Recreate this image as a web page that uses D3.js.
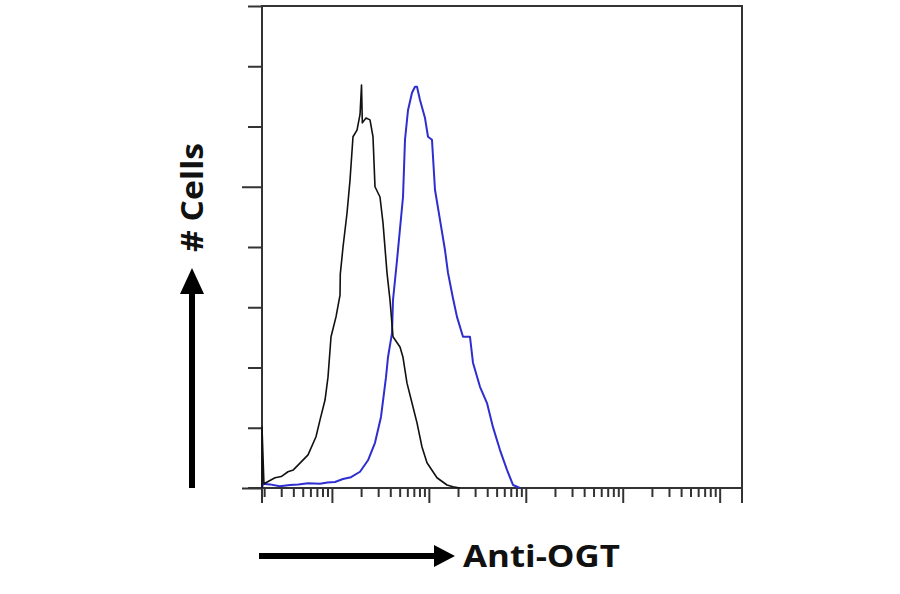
<!DOCTYPE html>
<html><head><meta charset="utf-8">
<script src="https://cdn.jsdelivr.net/npm/d3@7"></script>
<style>body{margin:0;background:#fff}</style>
</head><body><svg id="c" width="900" height="594"></svg>
<script>
// Isotype control (black) : [fluorescence intensity, # cells]
const controlSeries = [[1.90,0],[1.90,10.1],[1.99,0.7],[2.59,1.7],[3.0,1.9],[3.52,2.7],[4.0,3.0],[4.47,3.8],[5.67,5.5],[6.85,8.5],[7.54,11.3],[8.49,14.6],[9.11,18.4],[9.79,25.1],[11.02,28.4],[12.12,32.0],[12.2,35.5],[13.02,40.0],[14.31,45.6],[15.37,51.1],[16.50,58.3],[18.15,59.4],[19.5,62.0],[20.2,66.9],[20.6,60.6],[22.47,61.4],[24.71,61.1],[26.53,58.3],[27.82,50.0],[31.33,48.3],[33.65,44.0],[37.01,35.7],[39.73,31.2],[42.67,25.1],[50.39,23.4],[54.12,21.7],[59.51,17.4],[67.02,14.1],[75.46,10.8],[84.99,6.8],[95.68,4.2],[121.3,1.7],[153.9,0.5],[177.4,0.2],[209.5,0]];
// Anti-OGT (blue)
const ogtSeries = [[1.90,0],[1.95,0.7],[2.30,0.6],[2.9,0.3],[3.69,0.5],[4.5,0.6],[5.67,0.8],[7.54,0.7],[9.0,0.9],[10.76,1.0],[13.0,1.5],[15.74,1.8],[19.49,2.7],[23.57,4.6],[27.82,7.5],[32.08,11.8],[36.14,18.4],[37.89,21.7],[41.67,25.7],[42.67,31.2],[46.94,37.8],[54.12,48.3],[56.75,57.8],[60.93,62.7],[67.02,65.6],[71.96,66.6],[75.46,66.6],[81.04,64.4],[91.26,61.4],[98.0,58.3],[107.7,57.8],[115.7,49.5],[130.3,44.5],[146.7,39.5],[157.6,35.7],[177.4,31.5],[195.1,28.4],[225.0,25.1],[265.7,25.1],[285.3,20.8],[336.9,16.8],[397.9,14.1],[458.8,10.1],[541.9,6.3],[640.0,3.0],[738.0,0.5],[871.4,0]];
const yTickValues = [0,10,20,30,40,50,60,70,80];
const yLongTicks = [0,50];
const xMajorTicks = [10,100,1000,10000,100000];
const xMinorMultipliers = [2,3,4,5,6,7,8,9];
const xDomain = [1.9,170000];
const yDomain = [0,80];
const xTitle = "Anti-OGT";
const yTitle = "# Cells";

const svg = d3.select("#c");
const L=262,R=742,T=6,B=488;
const x = d3.scaleLog().domain(xDomain).range([L,R]);
const y = d3.scaleLinear().domain(yDomain).range([B,T]);
const axisColor="#333";

// minor ticks
const minor=[];
[1,10,100,1000,10000,100000].forEach(d=>xMinorMultipliers.forEach(m=>{const v=d*m; if(v>=xDomain[0]&&v<=xDomain[1]) minor.push(v);}));

const gxMinor = svg.append("g").attr("transform",`translate(0,${B})`)
  .call(d3.axisBottom(x).tickValues(minor).tickSize(9).tickFormat(""));
const gxMajor = svg.append("g").attr("transform",`translate(0,${B})`)
  .call(d3.axisBottom(x).tickValues(xMajorTicks).tickSize(15).tickFormat(""));
[gxMinor,gxMajor].forEach(g=>{g.select(".domain").remove();g.selectAll("line").attr("stroke",axisColor).attr("stroke-width",2);});

const gy = svg.append("g").attr("transform",`translate(${L},0)`)
  .call(d3.axisLeft(y).tickValues(yTickValues).tickSize(14).tickFormat(""));
gy.select(".domain").remove();
gy.selectAll(".tick line").attr("stroke",axisColor).attr("stroke-width",2)
  .attr("x2",d=>yLongTicks.includes(d)?-20:-14);

// frame
const frame = svg.append("g").attr("stroke",axisColor).attr("stroke-width",2).attr("fill","none");
frame.append("line").attr("x1",L).attr("x2",L).attr("y1",T-1).attr("y2",503);
frame.append("line").attr("x1",R).attr("x2",R).attr("y1",T-1).attr("y2",503);
frame.append("line").attr("x1",L).attr("x2",R).attr("y1",T).attr("y2",T);
frame.append("line").attr("x1",L-14).attr("x2",R).attr("y1",B).attr("y2",B);

const line = d3.line().x(d=>x(d[0])).y(d=>y(d[1]));
svg.append("path").datum(ogtSeries).attr("d",line).attr("fill","none").attr("stroke","#2e2ed0").attr("stroke-width",2).attr("stroke-linejoin","round");
svg.append("path").datum(controlSeries).attr("d",line).attr("fill","none").attr("stroke","#111").attr("stroke-width",1.6).attr("stroke-linejoin","round");

// arrows
svg.append("rect").attr("x",259).attr("y",553).attr("width",180).attr("height",6).attr("fill","#000");
svg.append("path").attr("d","M434,545 L455,556 L434,567 Z").attr("fill","#000");
svg.append("rect").attr("x",189).attr("y",290).attr("width",6).attr("height",198).attr("fill","#000");
svg.append("path").attr("d","M180,294 L192,268 L204,294 Z").attr("fill","#000");

svg.append("text").attr("x",463).attr("y",567).attr("font-family","'Open Sans', sans-serif").attr("font-weight",700)
  .attr("font-size",30).attr("textLength",157).attr("lengthAdjust","spacingAndGlyphs").attr("fill","#111").text(xTitle);
svg.append("text").attr("transform","translate(203,252) rotate(-90)").attr("font-family","'Open Sans', sans-serif").attr("font-weight",700)
  .attr("font-size",30).attr("textLength",109).attr("lengthAdjust","spacingAndGlyphs").attr("fill","#111").text(yTitle);
</script></body></html>
